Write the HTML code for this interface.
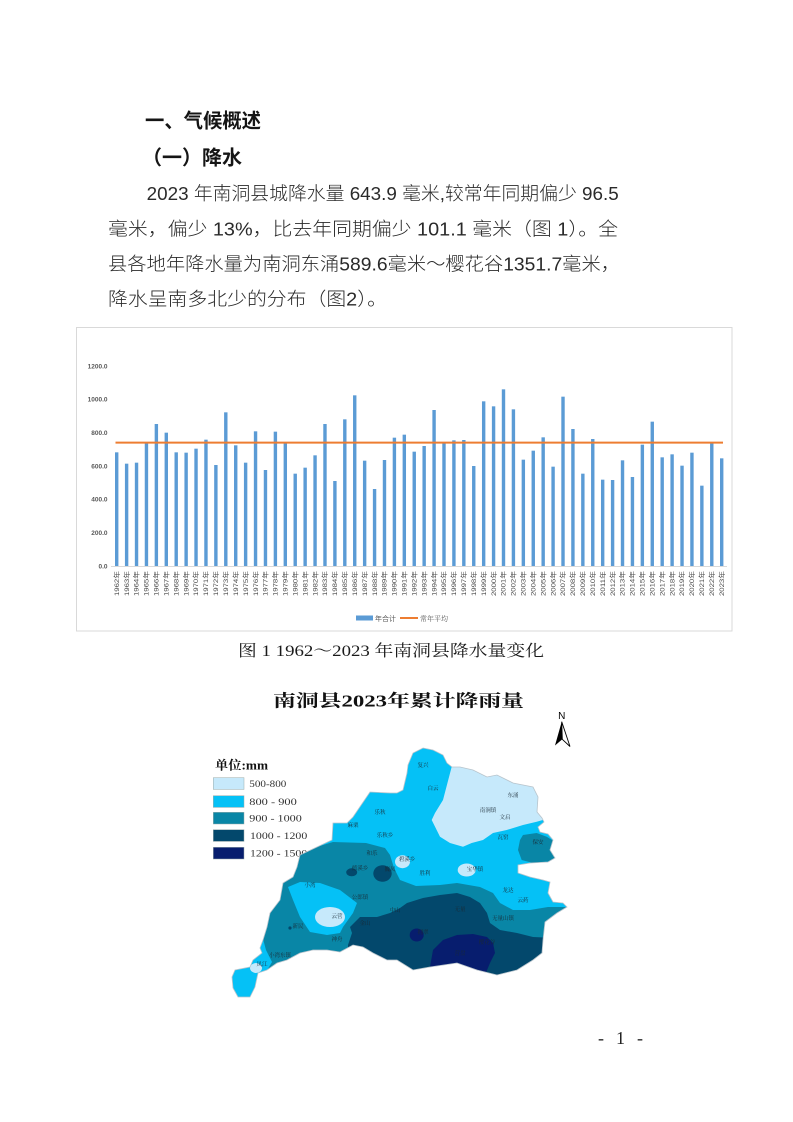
<!DOCTYPE html>
<html><head><meta charset="utf-8">
<style>
html,body{margin:0;padding:0;background:#fff;width:793px;height:1122px;overflow:hidden}
svg{display:block}
.cjk{font-family:"Liberation Sans","Noto Sans CJK SC",sans-serif}
.ser{font-family:"Liberation Serif","Noto Serif CJK SC",serif}
</style></head>
<body>
<svg width="793" height="1122" viewBox="0 0 793 1122" xmlns="http://www.w3.org/2000/svg">
<rect width="793" height="1122" fill="#fff"/>

<!-- Headings and body text -->
<text class="cjk" x="145" y="127.6" font-size="20" font-weight="bold" fill="#151515" textLength="116" lengthAdjust="spacingAndGlyphs">一、气候概述</text>
<text class="cjk" x="142" y="164.3" font-size="20" font-weight="bold" fill="#151515" textLength="100" lengthAdjust="spacingAndGlyphs">（一）降水</text>
<g class="cjk" font-size="18.5" font-weight="300" fill="#2a2a2a">
<text x="146.7" y="200" textLength="472" lengthAdjust="spacingAndGlyphs">2023 年南洞县城降水量 643.9 毫米,较常年同期偏少 96.5</text>
<text x="108" y="235.3" textLength="510" lengthAdjust="spacingAndGlyphs">毫米，偏少 13%，比去年同期偏少 101.1 毫米（图 1）。全</text>
<text x="108" y="270.3" textLength="512" lengthAdjust="spacingAndGlyphs">县各地年降水量为南洞东涌589.6毫米～樱花谷1351.7毫米，</text>
<text x="108" y="305.3" textLength="279" lengthAdjust="spacingAndGlyphs">降水呈南多北少的分布（图2）。</text>
</g>

<!-- Chart frame -->
<rect x="76.5" y="327.5" width="655.5" height="303.5" fill="#fff" stroke="#d9d9d9" stroke-width="1"/>

<!-- Y labels -->
<g font-family="Liberation Sans, sans-serif" font-size="6.5" font-weight="bold" fill="#595959" text-anchor="end">
<text x="107.5" y="368.3">1200.0</text>
<text x="107.5" y="401.6">1000.0</text>
<text x="107.5" y="435">800.0</text>
<text x="107.5" y="468.3">600.0</text>
<text x="107.5" y="501.6">400.0</text>
<text x="107.5" y="535">200.0</text>
<text x="107.5" y="568.3">0.0</text>
</g>
<line x1="111" y1="566.5" x2="727" y2="566.5" stroke="#d9d9d9" stroke-width="1"/>

<!-- Bars -->
<g fill="#5b9bd5">
<rect x="115.0" y="452.33" width="3.4" height="113.67"/>
<rect x="124.92" y="463.67" width="3.4" height="102.33"/>
<rect x="134.84" y="462.67" width="3.4" height="103.33"/>
<rect x="144.75" y="442.33" width="3.4" height="123.67"/>
<rect x="154.67" y="424" width="3.4" height="142"/>
<rect x="164.59" y="432.67" width="3.4" height="133.33"/>
<rect x="174.51" y="452.33" width="3.4" height="113.67"/>
<rect x="184.43" y="452.67" width="3.4" height="113.33"/>
<rect x="194.34" y="448.67" width="3.4" height="117.33"/>
<rect x="204.26" y="439.67" width="3.4" height="126.33"/>
<rect x="214.18" y="465" width="3.4" height="101"/>
<rect x="224.10" y="412.33" width="3.4" height="153.67"/>
<rect x="234.02" y="445.33" width="3.4" height="120.67"/>
<rect x="243.93" y="462.67" width="3.4" height="103.33"/>
<rect x="253.85" y="431.33" width="3.4" height="134.67"/>
<rect x="263.77" y="470" width="3.4" height="96"/>
<rect x="273.69" y="431.67" width="3.4" height="134.33"/>
<rect x="283.61" y="443.33" width="3.4" height="122.67"/>
<rect x="293.52" y="473.67" width="3.4" height="92.33"/>
<rect x="303.44" y="467.67" width="3.4" height="98.33"/>
<rect x="313.36" y="455.33" width="3.4" height="110.67"/>
<rect x="323.28" y="424" width="3.4" height="142"/>
<rect x="333.20" y="481" width="3.4" height="85"/>
<rect x="343.11" y="419.33" width="3.4" height="146.67"/>
<rect x="353.03" y="395.33" width="3.4" height="170.67"/>
<rect x="362.95" y="460.67" width="3.4" height="105.33"/>
<rect x="372.87" y="489" width="3.4" height="77"/>
<rect x="382.79" y="460" width="3.4" height="106"/>
<rect x="392.70" y="437.67" width="3.4" height="128.33"/>
<rect x="402.62" y="434.67" width="3.4" height="131.33"/>
<rect x="412.54" y="451.67" width="3.4" height="114.33"/>
<rect x="422.46" y="446" width="3.4" height="120"/>
<rect x="432.38" y="410" width="3.4" height="156"/>
<rect x="442.29" y="442.67" width="3.4" height="123.33"/>
<rect x="452.21" y="440.33" width="3.4" height="125.67"/>
<rect x="462.13" y="440" width="3.4" height="126"/>
<rect x="472.05" y="466" width="3.4" height="100"/>
<rect x="481.97" y="401.33" width="3.4" height="164.67"/>
<rect x="491.88" y="406.33" width="3.4" height="159.67"/>
<rect x="501.80" y="389.33" width="3.4" height="176.67"/>
<rect x="511.72" y="409.33" width="3.4" height="156.67"/>
<rect x="521.64" y="459.67" width="3.4" height="106.33"/>
<rect x="531.56" y="450.67" width="3.4" height="115.33"/>
<rect x="541.47" y="437.33" width="3.4" height="128.67"/>
<rect x="551.39" y="466.67" width="3.4" height="99.33"/>
<rect x="561.31" y="396.67" width="3.4" height="169.33"/>
<rect x="571.23" y="429" width="3.4" height="137"/>
<rect x="581.15" y="473.67" width="3.4" height="92.33"/>
<rect x="591.06" y="439" width="3.4" height="127"/>
<rect x="600.98" y="479.67" width="3.4" height="86.33"/>
<rect x="610.90" y="480" width="3.4" height="86"/>
<rect x="620.82" y="460.33" width="3.4" height="105.67"/>
<rect x="630.74" y="477" width="3.4" height="89"/>
<rect x="640.65" y="444.67" width="3.4" height="121.33"/>
<rect x="650.57" y="421.67" width="3.4" height="144.33"/>
<rect x="660.49" y="457.33" width="3.4" height="108.67"/>
<rect x="670.41" y="454.33" width="3.4" height="111.67"/>
<rect x="680.33" y="465.67" width="3.4" height="100.33"/>
<rect x="690.24" y="452.67" width="3.4" height="113.33"/>
<rect x="700.16" y="485.67" width="3.4" height="80.33"/>
<rect x="710.08" y="442.33" width="3.4" height="123.67"/>
<rect x="720.00" y="458.33" width="3.4" height="107.67"/>
</g>

<!-- Average line -->
<line x1="115.5" y1="442.6" x2="723" y2="442.6" stroke="#ed7d31" stroke-width="2"/>

<!-- X labels -->
<g class="cjk" font-size="6.3" fill="#4a4a4a" text-anchor="end">
<text transform="translate(118.9,571) rotate(-90)" textLength="25" lengthAdjust="spacingAndGlyphs">1962年</text>
<text transform="translate(128.82,571) rotate(-90)" textLength="25" lengthAdjust="spacingAndGlyphs">1963年</text>
<text transform="translate(138.74,571) rotate(-90)" textLength="25" lengthAdjust="spacingAndGlyphs">1964年</text>
<text transform="translate(148.65,571) rotate(-90)" textLength="25" lengthAdjust="spacingAndGlyphs">1965年</text>
<text transform="translate(158.57,571) rotate(-90)" textLength="25" lengthAdjust="spacingAndGlyphs">1966年</text>
<text transform="translate(168.49,571) rotate(-90)" textLength="25" lengthAdjust="spacingAndGlyphs">1967年</text>
<text transform="translate(178.41,571) rotate(-90)" textLength="25" lengthAdjust="spacingAndGlyphs">1968年</text>
<text transform="translate(188.33,571) rotate(-90)" textLength="25" lengthAdjust="spacingAndGlyphs">1969年</text>
<text transform="translate(198.24,571) rotate(-90)" textLength="25" lengthAdjust="spacingAndGlyphs">1970年</text>
<text transform="translate(208.16,571) rotate(-90)" textLength="25" lengthAdjust="spacingAndGlyphs">1971年</text>
<text transform="translate(218.08,571) rotate(-90)" textLength="25" lengthAdjust="spacingAndGlyphs">1972年</text>
<text transform="translate(228.0,571) rotate(-90)" textLength="25" lengthAdjust="spacingAndGlyphs">1973年</text>
<text transform="translate(237.92,571) rotate(-90)" textLength="25" lengthAdjust="spacingAndGlyphs">1974年</text>
<text transform="translate(247.83,571) rotate(-90)" textLength="25" lengthAdjust="spacingAndGlyphs">1975年</text>
<text transform="translate(257.75,571) rotate(-90)" textLength="25" lengthAdjust="spacingAndGlyphs">1976年</text>
<text transform="translate(267.67,571) rotate(-90)" textLength="25" lengthAdjust="spacingAndGlyphs">1977年</text>
<text transform="translate(277.59,571) rotate(-90)" textLength="25" lengthAdjust="spacingAndGlyphs">1978年</text>
<text transform="translate(287.51,571) rotate(-90)" textLength="25" lengthAdjust="spacingAndGlyphs">1979年</text>
<text transform="translate(297.42,571) rotate(-90)" textLength="25" lengthAdjust="spacingAndGlyphs">1980年</text>
<text transform="translate(307.34,571) rotate(-90)" textLength="25" lengthAdjust="spacingAndGlyphs">1981年</text>
<text transform="translate(317.26,571) rotate(-90)" textLength="25" lengthAdjust="spacingAndGlyphs">1982年</text>
<text transform="translate(327.18,571) rotate(-90)" textLength="25" lengthAdjust="spacingAndGlyphs">1983年</text>
<text transform="translate(337.10,571) rotate(-90)" textLength="25" lengthAdjust="spacingAndGlyphs">1984年</text>
<text transform="translate(347.01,571) rotate(-90)" textLength="25" lengthAdjust="spacingAndGlyphs">1985年</text>
<text transform="translate(356.93,571) rotate(-90)" textLength="25" lengthAdjust="spacingAndGlyphs">1986年</text>
<text transform="translate(366.85,571) rotate(-90)" textLength="25" lengthAdjust="spacingAndGlyphs">1987年</text>
<text transform="translate(376.77,571) rotate(-90)" textLength="25" lengthAdjust="spacingAndGlyphs">1988年</text>
<text transform="translate(386.69,571) rotate(-90)" textLength="25" lengthAdjust="spacingAndGlyphs">1989年</text>
<text transform="translate(396.60,571) rotate(-90)" textLength="25" lengthAdjust="spacingAndGlyphs">1990年</text>
<text transform="translate(406.52,571) rotate(-90)" textLength="25" lengthAdjust="spacingAndGlyphs">1991年</text>
<text transform="translate(416.44,571) rotate(-90)" textLength="25" lengthAdjust="spacingAndGlyphs">1992年</text>
<text transform="translate(426.36,571) rotate(-90)" textLength="25" lengthAdjust="spacingAndGlyphs">1993年</text>
<text transform="translate(436.28,571) rotate(-90)" textLength="25" lengthAdjust="spacingAndGlyphs">1994年</text>
<text transform="translate(446.19,571) rotate(-90)" textLength="25" lengthAdjust="spacingAndGlyphs">1995年</text>
<text transform="translate(456.11,571) rotate(-90)" textLength="25" lengthAdjust="spacingAndGlyphs">1996年</text>
<text transform="translate(466.03,571) rotate(-90)" textLength="25" lengthAdjust="spacingAndGlyphs">1997年</text>
<text transform="translate(475.95,571) rotate(-90)" textLength="25" lengthAdjust="spacingAndGlyphs">1998年</text>
<text transform="translate(485.87,571) rotate(-90)" textLength="25" lengthAdjust="spacingAndGlyphs">1999年</text>
<text transform="translate(495.78,571) rotate(-90)" textLength="25" lengthAdjust="spacingAndGlyphs">2000年</text>
<text transform="translate(505.70,571) rotate(-90)" textLength="25" lengthAdjust="spacingAndGlyphs">2001年</text>
<text transform="translate(515.62,571) rotate(-90)" textLength="25" lengthAdjust="spacingAndGlyphs">2002年</text>
<text transform="translate(525.54,571) rotate(-90)" textLength="25" lengthAdjust="spacingAndGlyphs">2003年</text>
<text transform="translate(535.46,571) rotate(-90)" textLength="25" lengthAdjust="spacingAndGlyphs">2004年</text>
<text transform="translate(545.37,571) rotate(-90)" textLength="25" lengthAdjust="spacingAndGlyphs">2005年</text>
<text transform="translate(555.29,571) rotate(-90)" textLength="25" lengthAdjust="spacingAndGlyphs">2006年</text>
<text transform="translate(565.21,571) rotate(-90)" textLength="25" lengthAdjust="spacingAndGlyphs">2007年</text>
<text transform="translate(575.13,571) rotate(-90)" textLength="25" lengthAdjust="spacingAndGlyphs">2008年</text>
<text transform="translate(585.05,571) rotate(-90)" textLength="25" lengthAdjust="spacingAndGlyphs">2009年</text>
<text transform="translate(594.96,571) rotate(-90)" textLength="25" lengthAdjust="spacingAndGlyphs">2010年</text>
<text transform="translate(604.88,571) rotate(-90)" textLength="25" lengthAdjust="spacingAndGlyphs">2011年</text>
<text transform="translate(614.80,571) rotate(-90)" textLength="25" lengthAdjust="spacingAndGlyphs">2012年</text>
<text transform="translate(624.72,571) rotate(-90)" textLength="25" lengthAdjust="spacingAndGlyphs">2013年</text>
<text transform="translate(634.64,571) rotate(-90)" textLength="25" lengthAdjust="spacingAndGlyphs">2014年</text>
<text transform="translate(644.55,571) rotate(-90)" textLength="25" lengthAdjust="spacingAndGlyphs">2015年</text>
<text transform="translate(654.47,571) rotate(-90)" textLength="25" lengthAdjust="spacingAndGlyphs">2016年</text>
<text transform="translate(664.39,571) rotate(-90)" textLength="25" lengthAdjust="spacingAndGlyphs">2017年</text>
<text transform="translate(674.31,571) rotate(-90)" textLength="25" lengthAdjust="spacingAndGlyphs">2018年</text>
<text transform="translate(684.23,571) rotate(-90)" textLength="25" lengthAdjust="spacingAndGlyphs">2019年</text>
<text transform="translate(694.14,571) rotate(-90)" textLength="25" lengthAdjust="spacingAndGlyphs">2020年</text>
<text transform="translate(704.06,571) rotate(-90)" textLength="25" lengthAdjust="spacingAndGlyphs">2021年</text>
<text transform="translate(713.98,571) rotate(-90)" textLength="25" lengthAdjust="spacingAndGlyphs">2022年</text>
<text transform="translate(723.90,571) rotate(-90)" textLength="25" lengthAdjust="spacingAndGlyphs">2023年</text>
</g>

<!-- Chart legend -->
<rect x="356" y="615.5" width="17" height="5" fill="#5b9bd5"/>
<text class="cjk" x="375" y="620.8" font-size="7" fill="#595959">年合计</text>
<line x1="400" y1="618" x2="418" y2="618" stroke="#ed7d31" stroke-width="2"/>
<text class="ser" x="420" y="620.8" font-size="7" fill="#595959">常年平均</text>

<!-- Caption -->
<text class="ser" x="238" y="656" font-size="16" fill="#1a1a1a" textLength="306" lengthAdjust="spacingAndGlyphs">图 1 1962～2023 年南洞县降水量变化</text>

<!-- Map title -->
<text class="ser" x="273" y="706.3" font-size="17" font-weight="bold" fill="#111" textLength="251" lengthAdjust="spacingAndGlyphs">南洞县2023年累计降雨量</text>

<!-- North arrow -->
<text x="561.7" y="719" font-family="Liberation Sans, sans-serif" font-size="10" text-anchor="middle" fill="#000">N</text>
<polygon points="561.7,721.7 555,745.5 562.3,739.3" fill="#000"/>
<polygon points="561.7,721.7 570,746.5 562.3,739.3" fill="#fff" stroke="#000" stroke-width="0.9"/>

<!-- Map legend -->
<text class="ser" x="215" y="769.5" font-size="12.5" font-weight="bold" fill="#111" textLength="53" lengthAdjust="spacingAndGlyphs">单位:mm</text>
<g stroke="#9aa" stroke-width="0.5">
<rect x="213.3" y="777.7" width="30.7" height="11.7" fill="#c6e9fb"/>
<rect x="213.3" y="795.7" width="30.7" height="11.7" fill="#05c1f6"/>
<rect x="213.3" y="812.3" width="30.7" height="11.7" fill="#0986a6"/>
<rect x="213.3" y="829.7" width="30.7" height="11.7" fill="#03486c"/>
<rect x="213.3" y="847.3" width="30.7" height="11.7" fill="#071d6e"/>
</g>
<g font-family="Liberation Serif, serif" font-size="9.5" fill="#333">
<text x="249.3" y="787" textLength="37" lengthAdjust="spacingAndGlyphs">500-800</text>
<text x="249.3" y="805" textLength="47.5" lengthAdjust="spacingAndGlyphs">800 - 900</text>
<text x="249.3" y="821.6" textLength="52.5" lengthAdjust="spacingAndGlyphs">900 - 1000</text>
<text x="250" y="839" textLength="57.3" lengthAdjust="spacingAndGlyphs">1000 - 1200</text>
<text x="250" y="856.6" textLength="57.3" lengthAdjust="spacingAndGlyphs">1200 - 1500</text>
</g>

<!-- Map -->
<defs>
<clipPath id="cty">
<polygon id="outer" points="423,748 433,750 443,755 447,763 452,767 460,767 473,770 487,777 497,775 513,783 533,787 538,797 537,812 542,818 544,822 538,827 540,832 548,834 553,840 550,850 555,858 548,862 530,863 518,865 518,873 530,877 543,880 550,882 548,893 553,902 563,903 567,907 557,913 545,922 543,940 542,953 533,960 517,970 497,975 477,970 457,963 430,967 413,970 397,960 387,960 373,953 363,947 353,945 340,952 327,950 313,950 300,953 287,960 277,963 267,970 258,973 255,987 250,997 238,997 233,988 232,977 235,970 250,967 253,960 262,953 260,948 263,940 267,927 270,913 280,900 283,883 293,877 297,867 300,855 317,847 332,840 333,823 347,823 353,817 370,792 390,793 397,793 403,790 407,773 408,765 413,753"/>
</clipPath>
</defs>
<g clip-path="url(#cty)">
<rect x="200" y="740" width="400" height="270" fill="#0986a6"/>
<polygon points="200,700 600,700 600,907 566,907 548,907 530,910 513,910 500,903 493,893 480,887 457,883 440,885 416,886 400,880 394,868 390,855 385,848 366,843 333,842 300,852 200,860" fill="#05c1f6"/>
<polygon points="288,887 300,882 320,883 340,890 357,903 353,913 343,927 340,933 327,935 310,932 300,917 293,900" fill="#05c1f6"/>
<polygon points="200,935 262,935 266,950 272,962 266,972 262,1010 200,1010" fill="#05c1f6"/>
<polygon points="451.7,740 451.7,766.7 443,800 435,813 431.7,820 440,836.7 450,843 463,846.7 471.7,843 483,840 493,833 506.7,830 523,825 536.7,821.7 560,815 560,740" fill="#c6e9fb"/>
<polygon points="520,840 523,835 536.7,833 546.7,836.7 560,845 560,860 546.7,861.7 533,863 521.7,860 518,850" fill="#0986a6"/>
<ellipse cx="330" cy="917" rx="15" ry="10" fill="#c6e9fb"/>
<ellipse cx="402.5" cy="861.7" rx="7.5" ry="6.5" fill="#c6e9fb"/>
<ellipse cx="466.7" cy="870" rx="9" ry="6.5" fill="#c6e9fb"/>
<ellipse cx="256" cy="968" rx="6" ry="5" fill="#c6e9fb"/>
<polygon points="350,927 360,917 377,917 390,913 400,908 407,903 423,898 440,895 457,893 470,897 480,903 487,913 490,923 500,930 517,933 533,937 600,940 600,1010 348,1010 348,945 352,933" fill="#03486c"/>
<ellipse cx="351.7" cy="872.3" rx="5.5" ry="4" fill="#03486c"/>
<ellipse cx="382.5" cy="873.5" rx="9.2" ry="8.3" fill="#03486c"/>
<circle cx="290" cy="928" r="1.6" fill="#03486c"/>
<polygon points="430,980 430,967 433,950 443,940 457,935 473,934 487,937 493,943 495,953 490,963 483,980" fill="#071d6e"/>
<ellipse cx="416.7" cy="935" rx="7" ry="6.5" fill="#071d6e"/>
</g>
<use href="#outer" fill="none" stroke="#b8c4cc" stroke-width="0.8"/>

<!-- map labels -->
<g class="ser" font-size="5.5" fill="#1a2a35" text-anchor="middle">
<text x="423" y="767">复兴</text>
<text x="433" y="790">白云</text>
<text x="513" y="797">东涌</text>
<text x="488" y="812">南涧镇</text>
<text x="505" y="819">文启</text>
<text x="503" y="839">瓦窑</text>
<text x="538" y="844">保安</text>
<text x="407" y="861">碧溪乡</text>
<text x="475" y="871">宝华镇</text>
<text x="425" y="875">胜利</text>
<text x="508" y="892">龙达</text>
<text x="523" y="902">云药</text>
<text x="460" y="911">无量</text>
<text x="503" y="920">无量山镇</text>
<text x="395" y="912">中山</text>
<text x="487" y="944">樱花谷</text>
<text x="423" y="934">拥翠</text>
<text x="460" y="955">营盘</text>
<text x="380" y="814">乐秋</text>
<text x="353" y="827">麻栗</text>
<text x="385" y="837">乐秋乡</text>
<text x="372" y="855">和乐</text>
<text x="360" y="870">德溪乡</text>
<text x="390" y="871">巍凤</text>
<text x="310" y="887">小湾</text>
<text x="360" y="899">公郎镇</text>
<text x="337" y="918">云营</text>
<text x="298" y="928">新民</text>
<text x="365" y="925">金山</text>
<text x="337" y="941">神舟</text>
<text x="280" y="957">小湾东镇</text>
<text x="262" y="966">凤江</text>
</g>

<!-- Page number -->
<text class="ser" x="598" y="1044" font-size="18" fill="#222" textLength="45" lengthAdjust="spacing">- 1 -</text>
</svg>
</body></html>
